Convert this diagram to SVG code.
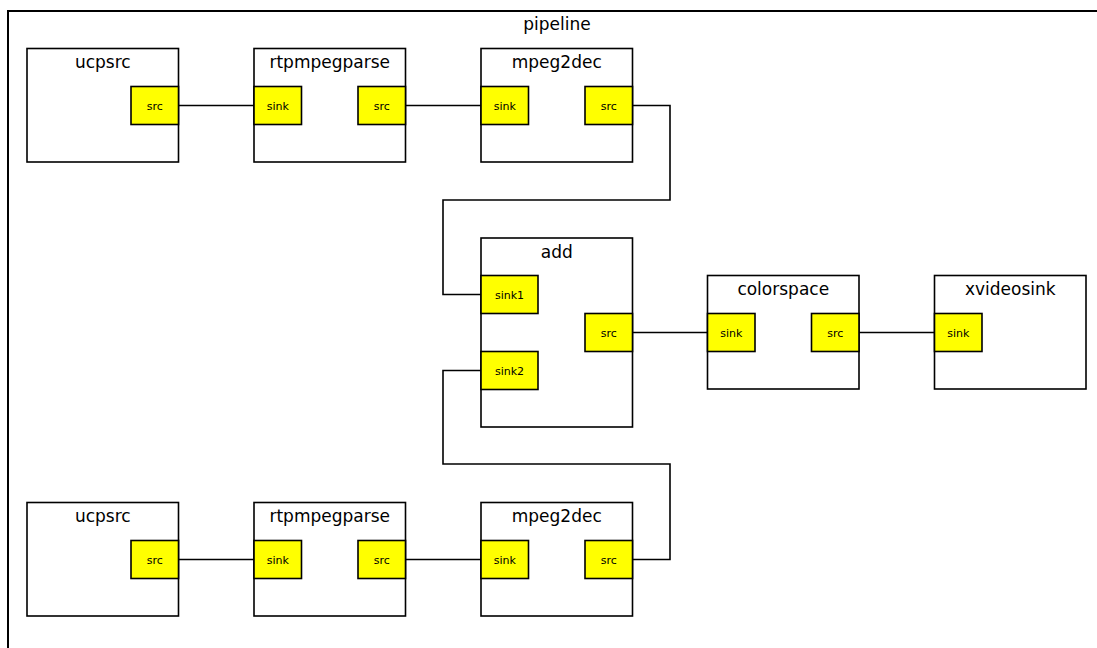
<svg xmlns="http://www.w3.org/2000/svg" width="1097" height="648" viewBox="0 0 1097 648">
<style>
.frame{fill:none;stroke:#000;stroke-width:2}
.box{fill:#fff;stroke:#000;stroke-width:1.6}
.pad{fill:#ffff00;stroke:#000;stroke-width:1.6}
.title{font-family:"DejaVu Sans",sans-serif;font-size:17px;fill:#000;text-anchor:middle}
.plabel{font-family:"DejaVu Sans",sans-serif;font-size:11px;fill:#000;text-anchor:middle}
.conn{fill:none;stroke:#000;stroke-width:1.6}
</style>
<rect width="1097" height="648" fill="#fff"/>
<g id="pipeline">
<rect class="frame" x="8" y="11" width="1100" height="660"/>
<text class="title" x="557" y="30">pipeline</text>
</g>
<g id="connectors">
<path class="conn" d="M178.5,105.5H254"/>
<path class="conn" d="M405.5,105.5H481"/>
<path class="conn" d="M632.5,105.5H670V200H443V294.5H481"/>
<path class="conn" d="M632.5,332.5H707.5"/>
<path class="conn" d="M859,332.5H934.5"/>
<path class="conn" d="M178.5,559.5H254"/>
<path class="conn" d="M405.5,559.5H481"/>
<path class="conn" d="M632.5,559.5H670V464H443V370.5H481"/>
</g>
<g id="ucpsrc1">
<rect class="box" x="27" y="48.5" width="151.5" height="113.5"/>
<text class="title" x="102.75" y="68">ucpsrc</text>
<rect class="pad" x="131" y="86.5" width="47.5" height="38"/>
<text class="plabel" x="154.75" y="109.5">src</text>
</g>
<g id="rtpmpegparse1">
<rect class="box" x="254" y="48.5" width="151.5" height="113.5"/>
<text class="title" x="329.75" y="68">rtpmpegparse</text>
<rect class="pad" x="254" y="86.5" width="47.5" height="38"/>
<text class="plabel" x="277.75" y="109.5">sink</text>
<rect class="pad" x="358" y="86.5" width="47.5" height="38"/>
<text class="plabel" x="381.75" y="109.5">src</text>
</g>
<g id="mpeg2dec1">
<rect class="box" x="481" y="48.5" width="151.5" height="113.5"/>
<text class="title" x="556.75" y="68">mpeg2dec</text>
<rect class="pad" x="481" y="86.5" width="47.5" height="38"/>
<text class="plabel" x="504.75" y="109.5">sink</text>
<rect class="pad" x="585" y="86.5" width="47.5" height="38"/>
<text class="plabel" x="608.75" y="109.5">src</text>
</g>
<g id="add">
<rect class="box" x="481" y="238" width="151.5" height="189"/>
<text class="title" x="556.75" y="257.5">add</text>
<rect class="pad" x="481" y="275.5" width="57" height="38"/>
<text class="plabel" x="509.5" y="298.5">sink1</text>
<rect class="pad" x="585" y="313.5" width="47.5" height="38"/>
<text class="plabel" x="608.75" y="336.5">src</text>
<rect class="pad" x="481" y="351.5" width="57" height="38"/>
<text class="plabel" x="509.5" y="374.5">sink2</text>
</g>
<g id="colorspace">
<rect class="box" x="707.5" y="275.5" width="151.5" height="113.5"/>
<text class="title" x="783.25" y="295">colorspace</text>
<rect class="pad" x="707.5" y="313.5" width="47.5" height="38"/>
<text class="plabel" x="731.25" y="336.5">sink</text>
<rect class="pad" x="811.5" y="313.5" width="47.5" height="38"/>
<text class="plabel" x="835.25" y="336.5">src</text>
</g>
<g id="xvideosink">
<rect class="box" x="934.5" y="275.5" width="151.5" height="113.5"/>
<text class="title" x="1010.25" y="295">xvideosink</text>
<rect class="pad" x="934.5" y="313.5" width="47.5" height="38"/>
<text class="plabel" x="958.25" y="336.5">sink</text>
</g>
<g id="ucpsrc2">
<rect class="box" x="27" y="502.5" width="151.5" height="113.5"/>
<text class="title" x="102.75" y="522">ucpsrc</text>
<rect class="pad" x="131" y="540.5" width="47.5" height="38"/>
<text class="plabel" x="154.75" y="563.5">src</text>
</g>
<g id="rtpmpegparse2">
<rect class="box" x="254" y="502.5" width="151.5" height="113.5"/>
<text class="title" x="329.75" y="522">rtpmpegparse</text>
<rect class="pad" x="254" y="540.5" width="47.5" height="38"/>
<text class="plabel" x="277.75" y="563.5">sink</text>
<rect class="pad" x="358" y="540.5" width="47.5" height="38"/>
<text class="plabel" x="381.75" y="563.5">src</text>
</g>
<g id="mpeg2dec2">
<rect class="box" x="481" y="502.5" width="151.5" height="113.5"/>
<text class="title" x="556.75" y="522">mpeg2dec</text>
<rect class="pad" x="481" y="540.5" width="47.5" height="38"/>
<text class="plabel" x="504.75" y="563.5">sink</text>
<rect class="pad" x="585" y="540.5" width="47.5" height="38"/>
<text class="plabel" x="608.75" y="563.5">src</text>
</g>
</svg>
